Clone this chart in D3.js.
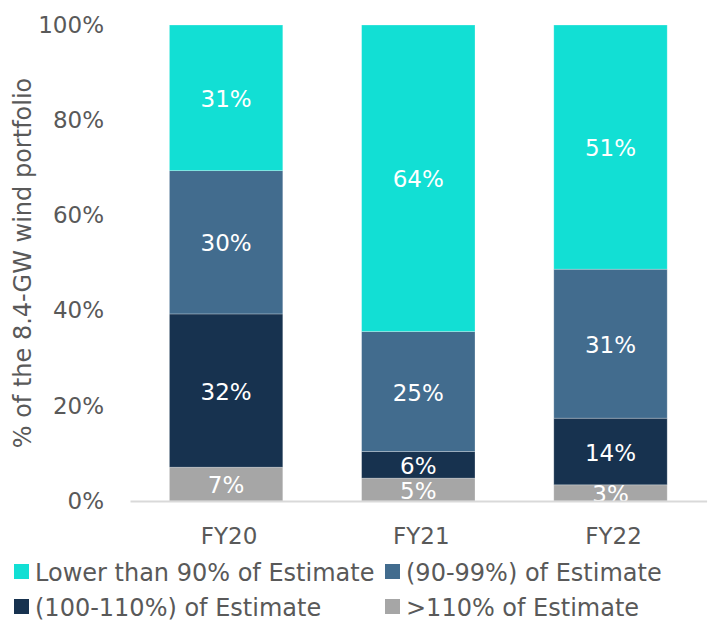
<!DOCTYPE html>
<html><head><meta charset="utf-8">
<script src="https://cdn.jsdelivr.net/npm/d3@7"></script>
<style>
html,body{margin:0;padding:0;background:#fff;}
svg{display:block;font-family:"DejaVu Sans",Verdana,sans-serif;}
</style></head>
<body><svg id="chart" width="710" height="622"></svg>
<script>
const categories = ["FY20", "FY21", "FY22"];
const seriesNames = [">110% of Estimate", "(100-110%) of Estimate", "(90-99%) of Estimate", "Lower than 90% of Estimate"];
const over110 = [7.1, 4.8, 3.4];
const from100to110 = [32.2, 5.6, 14.0];
const from90to99 = [30.1, 25.2, 31.3];
const lowerThan90 = [30.6, 64.4, 51.3];
const labelsOver110 = ["7%", "5%", "3%"];
const labels100to110 = ["32%", "6%", "14%"];
const labels90to99 = ["30%", "25%", "31%"];
const labelsLower90 = ["31%", "64%", "51%"];
const yTicks = [0, 20, 40, 60, 80, 100];
const yTitle = "% of the 8.4-GW wind portfolio";

const colors = {">110% of Estimate": "#a6a6a6", "(100-110%) of Estimate": "#17324f", "(90-99%) of Estimate": "#426c8e", "Lower than 90% of Estimate": "#12dfd4"};
const seriesValues = [over110, from100to110, from90to99, lowerThan90];
const seriesLabels = [labelsOver110, labels100to110, labels90to99, labelsLower90];

const rows = categories.map((c, i) => {
  const r = {cat: c};
  seriesNames.forEach((s, k) => r[s] = seriesValues[k][i]);
  return r;
});
const stacked = d3.stack().keys(seriesNames)(rows);

const svg = d3.select("#chart");
const textColor = "#595959";
const x = d3.scaleBand().domain(categories).range([130, 706.6]).paddingInner(0.41).paddingOuter(0.205);
const y = d3.scaleLinear().domain([0, 100]).range([501, 25]);

// bars
const g = svg.append("g");
stacked.forEach((layer, k) => {
  g.selectAll(null).data(layer).enter().append("rect")
    .attr("x", d => x(d.data.cat))
    .attr("width", x.bandwidth())
    .attr("y", d => y(d[1]))
    .attr("height", d => y(d[0]) - y(d[1]))
    .attr("fill", colors[layer.key])
    .attr("stroke", "#ffffff").attr("stroke-width", 0.75).attr("stroke-opacity", 0.35);
});
// labels
stacked.forEach((layer, k) => {
  g.selectAll(null).data(layer).enter().append("text")
    .attr("x", d => x(d.data.cat) + x.bandwidth() / 2)
    .attr("y", d => (y(d[0]) + y(d[1])) / 2)
    .attr("dy", "0.4em")
    .attr("text-anchor", "middle")
    .attr("fill", "#ffffff")
    .style("font-size", "23px")
    .text((d, i) => seriesLabels[k][i]);
});

// y axis
const yAxis = d3.axisLeft(y).tickValues(yTicks).tickFormat(d => d + "%").tickSize(0).tickPadding(0);
const ya = svg.append("g").attr("transform", "translate(104,0)").call(yAxis);
ya.select(".domain").remove();
ya.selectAll("text").attr("fill", textColor).style("font-size", "23px").style("font-family", "'DejaVu Sans',Verdana,sans-serif");

// x axis
const xAxis = d3.axisBottom(x).tickSize(0).tickPadding(0);
const xa = svg.append("g").attr("transform", "translate(0,501)").call(xAxis);
xa.select(".domain").attr("stroke", "#d9d9d9").attr("stroke-width", 2);
xa.selectAll("text").attr("fill", textColor).attr("dy", "1.88em").attr("dx", "3").style("font-size", "23px").style("font-family", "'DejaVu Sans',Verdana,sans-serif");

// y title
svg.append("text")
  .attr("transform", "translate(31,263) rotate(-90)")
  .attr("text-anchor", "middle")
  .attr("fill", textColor)
  .style("font-size", "24px")
  .text(yTitle);

// legend
const legendItems = [
  {name: "Lower than 90% of Estimate", x: 14, y: 564},
  {name: "(90-99%) of Estimate", x: 385, y: 564},
  {name: "(100-110%) of Estimate", x: 14, y: 599},
  {name: ">110% of Estimate", x: 385, y: 599}
];
const lg = svg.append("g");
legendItems.forEach(it => {
  lg.append("rect").attr("x", it.x).attr("y", it.y).attr("width", 15).attr("height", 15).attr("fill", colors[it.name]);
  lg.append("text").attr("x", it.x + 21).attr("y", it.y + 17).attr("fill", textColor).style("font-size", "24px").text(it.name);
});
</script></body></html>
